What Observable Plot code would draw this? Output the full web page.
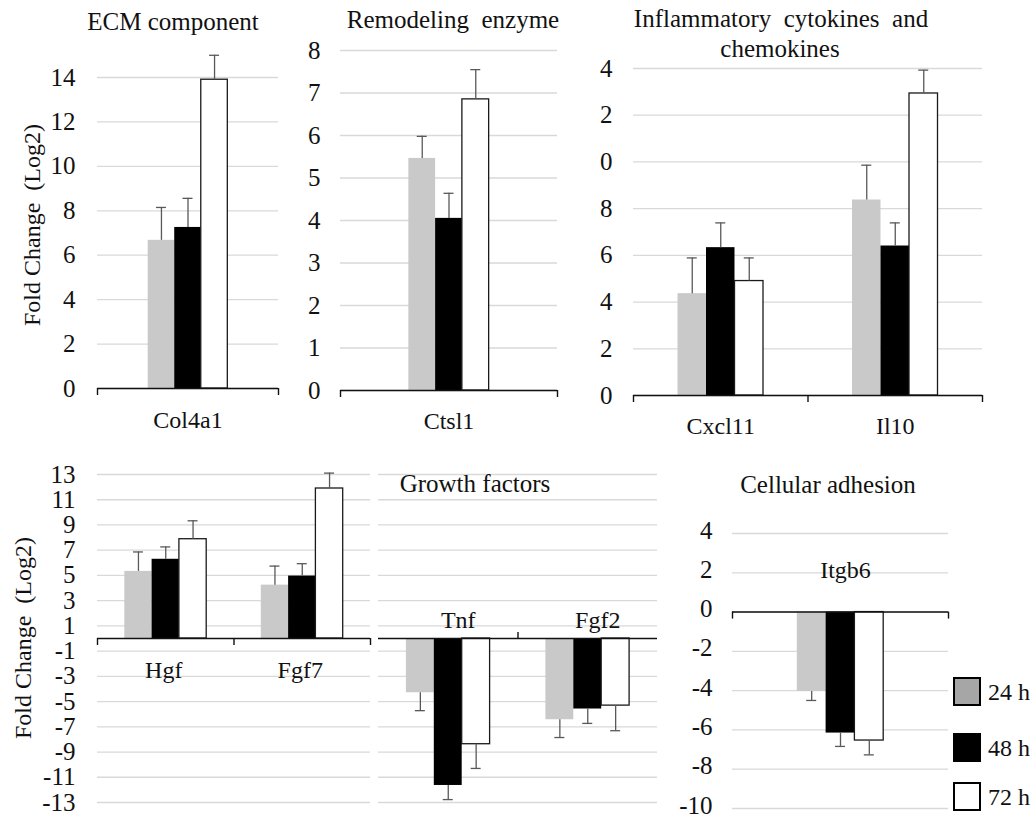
<!DOCTYPE html>
<html><head><meta charset="utf-8">
<script src="https://cdn.jsdelivr.net/npm/d3@7"></script>
<script src="https://cdn.jsdelivr.net/npm/@observablehq/plot@0.6"></script>
<style>
body{margin:0;background:#fff;}
#fig{position:relative;width:1034px;height:817px;background:#fff;color:#111;}
#fig, #fig div, #fig svg, #fig text{font-family:'Liberation Serif', serif !important;}
.t{position:absolute;font-size:24px;line-height:24px;text-align:center;}
.box{position:absolute;box-sizing:border-box;width:28px;height:29px;border:2px solid #000;}
</style></head><body><div id="fig" style="font-family:'Liberation Serif', serif"></div>
<script>
// ---- data ----
const timepoints = ["24 h", "48 h", "72 h"];
const barFills = ["#c9c9c9", "#000000", "#ffffff"];
const barStrokes = ["none", "none", "#1a1a1a"];
const legendFills = ["#a6a6a6", "#000000", "#ffffff"];

const ecmGenes = ["Col4a1"];
const ecmMean = [[6.67, 7.25, 13.9]];
const ecmErr = [[1.48, 1.31, 1.1]];
const ecmTicks = [0, 2, 4, 6, 8, 10, 12, 14];
const ecmTickLabels = ["0", "2", "4", "6", "8", "10", "12", "14"];

const remGenes = ["Ctsl1"];
const remMean = [[5.46, 4.05, 6.85]];
const remErr = [[0.52, 0.59, 0.70]];
const remTicks = [0, 1, 2, 3, 4, 5, 6, 7, 8];
const remTickLabels = ["0", "1", "2", "3", "4", "5", "6", "7", "8"];

const infGenes = ["Cxcl11", "Il10"];
const infMean = [[4.36, 6.33, 4.9], [8.37, 6.4, 12.93]];
const infErr = [[1.53, 1.06, 0.99], [1.49, 0.99, 1.0]];
const infTicks = [0, 2, 4, 6, 8, 10, 12, 14];
const infTickLabels = ["0", "2", "4", "6", "8", "0", "2", "4"];

const gfLeftGenes = ["Hgf", "Fgf7"];
const gfLeftMean = [[5.32, 6.28, 7.87], [4.23, 4.95, 11.89]];
const gfLeftErr = [[1.54, 0.98, 1.46], [1.51, 0.98, 1.22]];
const gfRightGenes = ["Tnf", "Fgf2"];
const gfRightMean = [[-4.3, -11.65, -8.38], [-6.44, -5.59, -5.32]];
const gfRightErr = [[1.42, 1.12, 1.92], [1.41, 1.14, 1.99]];
const gfTicks = [-13, -11, -9, -7, -5, -3, -1, 1, 3, 5, 7, 9, 11, 13];
const gfTickLabels = ["-13", "-11", "-9", "-7", "-5", "-3", "-1", "1", "3", "5", "7", "9", "11", "13"];

const adhGenes = ["Itgb6"];
const adhMean = [[-4.04, -6.16, -6.54]];
const adhErr = [[0.46, 0.68, 0.73]];
const adhTicks = [-10, -8, -6, -4, -2, 0, 2, 4];
const adhTickLabels = ["-10", "-8", "-6", "-4", "-2", "0", "2", "4"];

const titles = ["ECM component", "Remodeling\u00a0 enzyme", "Inflammatory\u00a0 cytokines\u00a0 and", "chemokines", "Growth factors", "Cellular adhesion"];
const yTitle = "Fold Change\u00a0 (Log2)";

// ---- layout ----
const fig = document.getElementById("fig");
const FONT = "Liberation Serif";
const CSSFONT = "'Liberation Serif', serif";

function rowsOf(genes, means, errs, group) {
  const out = [];
  genes.forEach((g, i) => timepoints.forEach((t, k) => {
    const m = means[i][k];
    const x1 = i + 0.5 - group / 2 + k * group / 3;
    out.push({gene: g, i, k, t, mean: m, end: m + Math.sign(m) * errs[i][k], x1, x2: x1 + group / 3, xc: x1 + group / 6});
  }));
  return out;
}

function panel(c) {
  const data = rowsOf(c.genes, c.means, c.errs, c.group);
  const n = c.genes.length;
  const marks = [
    Plot.gridY(c.ticks, {stroke: "#d9d9d9", strokeOpacity: 1, strokeWidth: 1.3})
  ];
  timepoints.forEach((t, k) => {
    marks.push(Plot.rectY(data.filter(d => d.k === k), {x1: "x1", x2: "x2", y1: 0, y2: "mean", fill: barFills[k], stroke: barStrokes[k], strokeWidth: 1.3}));
  });
  marks.push(Plot.ruleX(data, {x: "xc", y1: "mean", y2: "end", stroke: "#595959", strokeWidth: 1.3}));
  marks.push(Plot.ruleY(data, {y: "end", x1: "xc", x2: "xc", insetLeft: -5, insetRight: -5, stroke: "#595959", strokeWidth: 1.3}));
  marks.push(Plot.ruleY([0], {stroke: "#111", strokeWidth: 1.4}));
  const up = c.tickDir === "up";
  marks.push(Plot.ruleX(c.tickAt, {x: d => d, y1: 0, y2: 0, insetTop: up ? -6 : 0, insetBottom: up ? 0 : -7, stroke: "#111", strokeWidth: 1.4}));
  marks.push(Plot.text(c.genes, {x: (d, i) => i + 0.5, y: 0, text: d => d, lineAnchor: "bottom", dy: c.catDy, dx: c.catDx, fontSize: 24, fontFamily: FONT, fill: "#111"}));
  if (c.tickLabels) {
    marks.push(Plot.axisY(c.ticks, {tickSize: 0, tickPadding: c.pad, tickFormat: d => c.tickLabels[c.ticks.indexOf(d)], fontSize: 25, fontFamily: FONT, fill: "#111", label: null, dy: c.tickDy || 0}));
  }
  const p = Plot.plot({
    width: c.W, height: c.H,
    marginLeft: c.fx[0] - c.L, marginRight: c.L + c.W - c.fx[1],
    marginTop: c.fy[1] - c.T, marginBottom: c.T + c.H - c.fy[0],
    x: {domain: [0, n], axis: null},
    y: {domain: c.yDomain, axis: null},
    style: {position: "absolute", left: c.L + "px", top: c.T + "px", background: "transparent", fontSize: "24px", overflow: "visible", maxWidth: "none"},
    marks
  });
  p.setAttribute("font-family", FONT);
  p.style.setProperty("font-family", CSSFONT, "important");
  fig.appendChild(p);
}

panel({genes: ecmGenes, means: ecmMean, errs: ecmErr, L: 0, T: 0, W: 290, H: 440, fx: [97, 278], fy: [388, 77], yDomain: [0, 14], ticks: ecmTicks, tickLabels: ecmTickLabels, pad: 22, group: 0.44, tickDir: "down", tickAt: [0, 1], catDy: 39, catDx: 0});
panel({genes: remGenes, means: remMean, errs: remErr, L: 290, T: 0, W: 280, H: 440, fx: [340, 557], fy: [390, 50], yDomain: [0, 8], ticks: remTicks, tickLabels: remTickLabels, pad: 20, group: 0.37, tickDir: "down", tickAt: [0, 1], catDy: 38, catDx: 0});
panel({genes: infGenes, means: infMean, errs: infErr, L: 570, T: 0, W: 464, H: 440, fx: [633, 982], fy: [395, 68], yDomain: [0, 14], ticks: infTicks, tickLabels: infTickLabels, pad: 21, group: 0.49, tickDir: "down", tickAt: [0, 1, 2], catDy: 38, catDx: 0});
panel({genes: gfLeftGenes, means: gfLeftMean, errs: gfLeftErr, L: 0, T: 440, W: 374, H: 377, fx: [97, 370], fy: [802, 474], yDomain: [-13, 13], ticks: gfTicks, tickLabels: gfTickLabels, pad: 22, group: 0.6, tickDir: "down", tickAt: [0, 1, 2], catDy: 39, catDx: -2});
panel({genes: gfRightGenes, means: gfRightMean, errs: gfRightErr, L: 374, T: 440, W: 290, H: 377, fx: [378, 657], fy: [802, 474], yDomain: [-13, 13], ticks: gfTicks, tickLabels: null, pad: 0, group: 0.6, tickDir: "up", tickAt: [1], catDy: -11, catDx: 10});
panel({genes: adhGenes, means: adhMean, errs: adhErr, L: 664, T: 440, W: 370, H: 377, fx: [732, 948], fy: [808, 533], yDomain: [-10, 4], ticks: adhTicks, tickLabels: adhTickLabels, pad: 20, tickDy: -3, group: 0.4, tickDir: "down", tickAt: [0, 1], catDy: -34, catDx: 5});

function mkDiv(txt, size) {
  const d = document.createElement("div");
  d.className = "t";
  d.textContent = txt;
  d.style.setProperty("font-family", CSSFONT, "important");
  if (size) d.style.fontSize = size + "px";
  fig.appendChild(d);
  return d;
}
// titles
function addText(txt, cx, baseline) {
  const d = mkDiv(txt, 25);
  d.style.left = (cx - 250) + "px";
  d.style.width = "500px";
  d.style.top = (baseline - 20) + "px";
}
addText(titles[0], 173, 30);
addText(titles[1], 453, 28);
addText(titles[2], 781, 27);
addText(titles[3], 780, 57);
addText(titles[4], 475, 492);
addText(titles[5], 828, 493);

function addYTitle(cx, cy) {
  const d = mkDiv(yTitle, 24);
  d.style.width = "300px";
  d.style.height = "24px";
  d.style.left = (cx - 150) + "px";
  d.style.top = (cy - 12) + "px";
  d.style.transform = "rotate(-90deg)";
}
addYTitle(32, 225);
addYTitle(23, 638);

// legend
const legendTops = [677, 733, 782];
timepoints.forEach((t, k) => {
  const b = document.createElement("div");
  b.className = "box";
  b.style.left = "953px";
  b.style.top = legendTops[k] + "px";
  b.style.background = legendFills[k];
  fig.appendChild(b);
  const l = mkDiv(t, 24);
  l.style.textAlign = "left";
  l.style.left = "988px";
  l.style.top = (legendTops[k] + 3) + "px";
});
</script></body></html>
